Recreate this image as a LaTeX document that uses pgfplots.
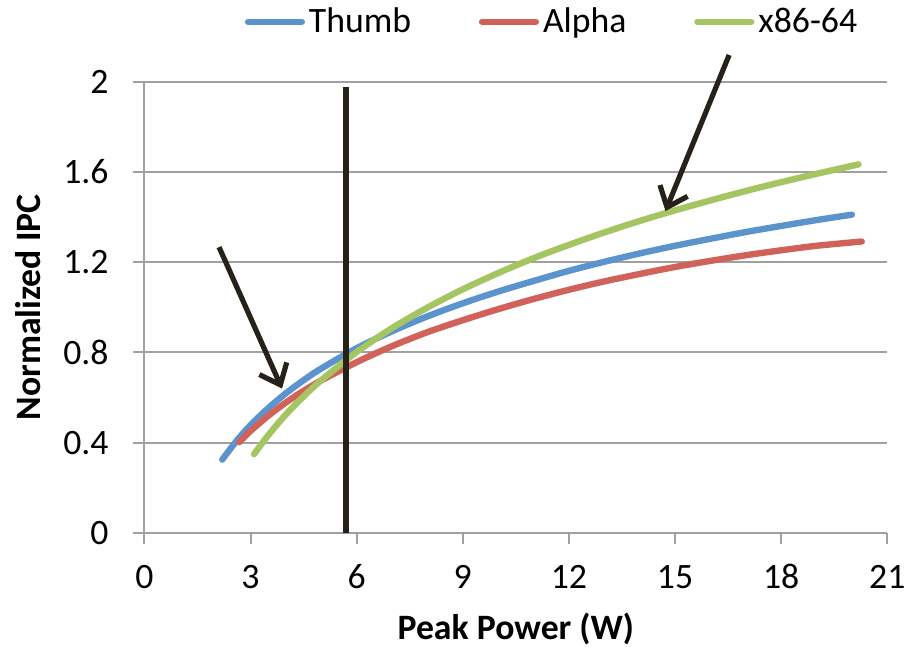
\documentclass[border=0pt]{standalone}
\usepackage{fontspec}
\setmainfont{Carlito}
\usepackage{pgfplots}
\pgfplotsset{compat=1.18}
\usetikzlibrary{arrows.meta}

\definecolor{thumbblue}{RGB}{91,148,205}
\definecolor{alphared}{RGB}{208,98,90}
\definecolor{xgreen}{RGB}{165,196,98}
\definecolor{axisgray}{RGB}{160,160,160}
\definecolor{markdark}{RGB}{38,34,25}

\begin{document}
\begin{tikzpicture}
\begin{axis}[
    scale only axis,
    width=373bp, height=226.5bp,
    xmin=0, xmax=21, ymin=0, ymax=2,
    xtick={0,3,6,9,12,15,18,21},
    xticklabels={0,3,6,9,12,15,18,21},
    ytick={0,0.4,0.8,1.2,1.6,2},
    yticklabels={0,0.4,0.8,1.2,1.6,2},
    axis x line*=bottom, axis y line*=left,
    axis line style={draw=axisgray, line width=1bp},
    tick style={draw=axisgray, line width=1bp},
    tick align=outside, major tick length=5.5bp,
    ymajorgrids, grid style={draw=axisgray, line width=1bp},
    ticklabel style={font=\fontsize{18}{20}\selectfont},
    xticklabel style={yshift=-7bp, text height=12bp, text depth=1bp},
    yticklabel style={xshift=-9bp},
    xlabel={\textbf{Peak Power (W)}},
    ylabel={\textbf{Normalized IPC}},
    xlabel style={font=\fontsize{18}{20}\selectfont, at={(axis description cs:0.5,-0.213)}, anchor=center},
    ylabel style={font=\fontsize{18}{20}\selectfont, at={(axis description cs:-0.156,0.5)}, anchor=center},
    legend style={at={(axis description cs:0.55,1.133)}, anchor=center, draw=none,
        font=\fontsize{18}{20}\selectfont, legend columns=3,
        /tikz/every even column/.append style={column sep=32bp}},
    legend image code/.code={\draw[#1, line cap=round] (0bp,0bp) -- (27bp,0bp);},
    clip=false,
]
% page frame with the reference's margins
\path (axis description cs:-0.1944,-0.2627) rectangle (axis description cs:1.0282,1.1810);
\addplot[thumbblue, line width=3.2bp, line cap=round, smooth] coordinates {
    (2.2,0.325) (2.6,0.407) (3.0,0.478) (3.5,0.553) (4.0,0.619) (4.5,0.677)
    (5.0,0.729) (6.0,0.819) (7.0,0.894) (8.0,0.960) (9.0,1.018) (10,1.070)
    (11,1.117) (12,1.162) (13,1.202) (14,1.239) (15,1.273) (16,1.304)
    (17,1.334) (18,1.361) (19,1.387) (20.0,1.411)
};
\addlegendentry{Thumb}
\addplot[alphared, line width=3.2bp, line cap=round, smooth] coordinates {
    (2.68,0.402) (3.0,0.452) (3.5,0.519) (4.0,0.578) (4.5,0.630) (5.0,0.676)
    (6.0,0.757) (7.0,0.828) (8.0,0.890) (9.0,0.943) (10,0.992) (11,1.037)
    (12,1.078) (13,1.115) (14,1.148) (15,1.179) (16,1.206) (17,1.231)
    (18,1.253) (19,1.273) (20.28,1.292)
};
\addlegendentry{Alpha}
\addplot[xgreen, line width=3.2bp, line cap=round, smooth] coordinates {
    (3.1,0.349) (3.5,0.433) (4.0,0.525) (4.5,0.605) (5.0,0.677) (6.0,0.802)
    (7.0,0.908) (8.0,0.999) (9.0,1.080) (10,1.152) (11,1.218) (12,1.277)
    (13,1.332) (14,1.383) (15,1.430) (16,1.474) (17,1.516) (18,1.555)
    (19,1.592) (20.19,1.634)
};
\addlegendentry{x86-64}
\addplot[markdark, line width=3bp, forget plot] coordinates {(5.69,0) (5.69,1.975)};
\draw[markdark, line width=2.6bp, -{Straight Barb[length=9bp, width=15bp]}]
    (axis cs:2.11,1.267) -- (axis cs:3.89,0.64);
\draw[markdark, line width=2.6bp, -{Straight Barb[length=9bp, width=15bp]}]
    (axis cs:16.53,2.119) -- (axis cs:14.73,1.427);
\end{axis}
\end{tikzpicture}
\end{document}
